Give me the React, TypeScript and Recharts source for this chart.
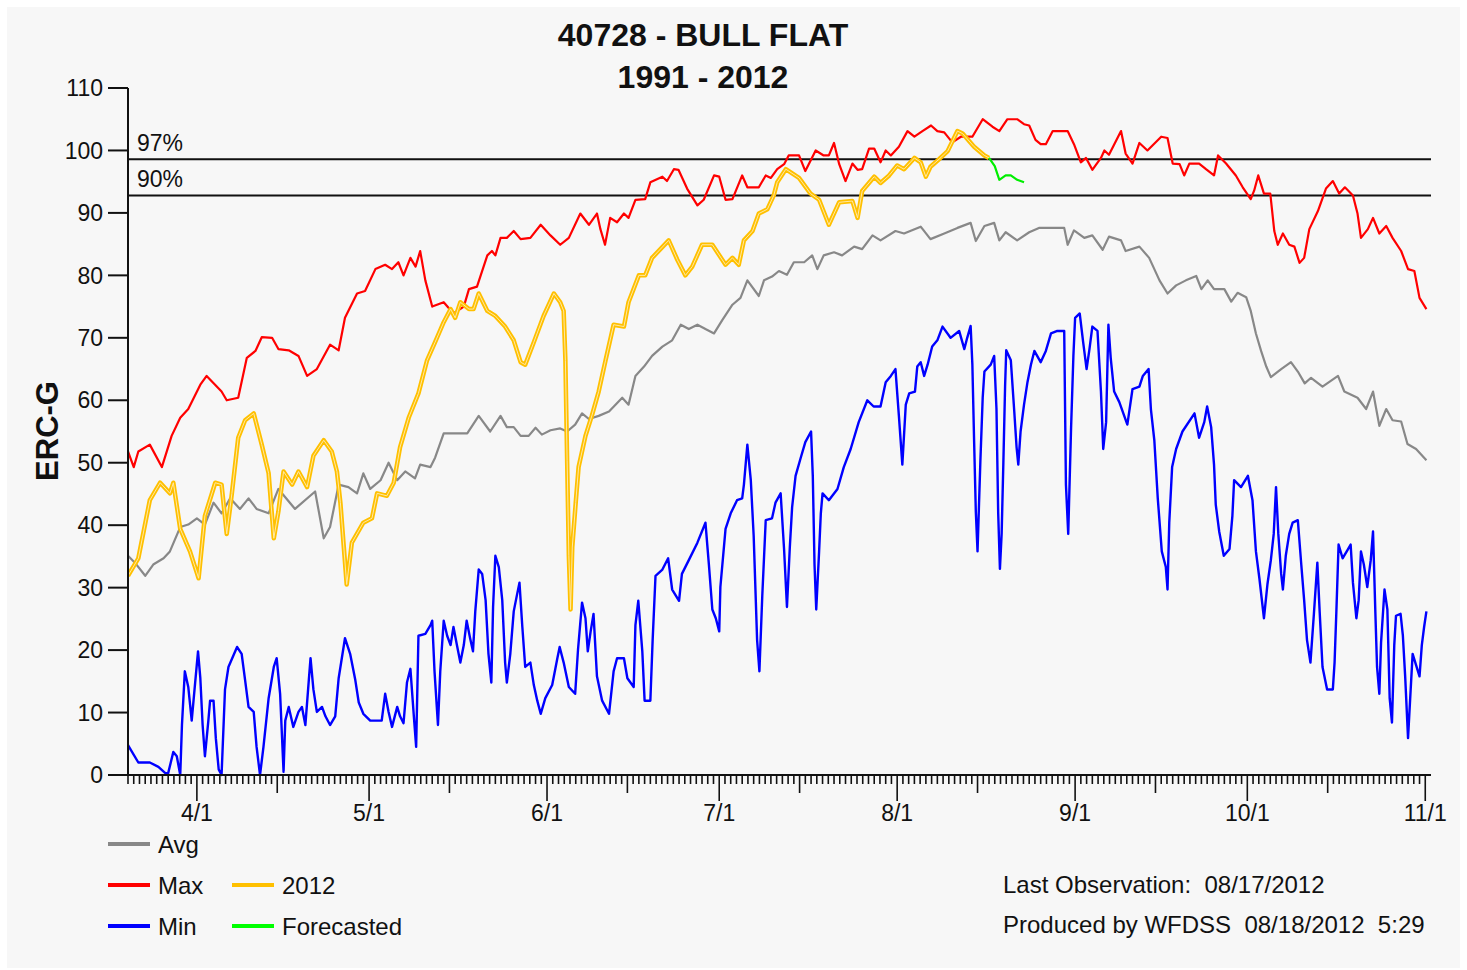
import React from "react";
import { LineChart, Line, XAxis, YAxis, ReferenceLine } from "recharts";

// day index: 0 = 4/1; the axis runs from 3/20 (-12) to 11/2 (215)
const monthTicks = [0, 30, 61, 91, 122, 153, 183, 214];
const monthLabels = ["4/1", "5/1", "6/1", "7/1", "8/1", "9/1", "10/1", "11/1"];
const midMonthTicks = [14, 44, 75, 105, 136, 167, 197];
const yTicks = [0, 10, 20, 30, 40, 50, 60, 70, 80, 90, 100, 110];
const pct97 = 98.6;
const pct90 = 92.8;

const avgSeries: [number, number][] = [
  [-12, 35.1], [-10.8, 34.0], [-9, 31.9], [-7.6, 33.7], [-5.8, 34.7], [-4.7, 35.8], [-2.9, 39.7], [-1.5, 40.1],
  [0, 41.1], [1.4, 40.1], [2.9, 43.6], [4.3, 41.9], [5.8, 44.3], [7.5, 42.6], [9, 44.3], [10.4, 42.6],
  [12.5, 41.9], [14.2, 45.8], [17.1, 42.6], [20.6, 45.4], [22.1, 37.9], [23.2, 39.7], [24.7, 46.5], [26.4, 46.1],
  [27.9, 45.1], [29, 48.3], [30.2, 45.8], [32, 47.2], [33.4, 50.0], [34.9, 47.2], [36.3, 48.6], [38, 47.5],
  [38.9, 49.7], [40.7, 49.3], [41.5, 50.8], [43, 54.7], [45, 54.7], [47.1, 54.7], [49.1, 57.5], [51.1, 55.0],
  [52.9, 57.5], [54, 55.7], [55.2, 55.7], [56.4, 54.3], [57.8, 54.3], [59, 55.6], [60.1, 54.5], [61.6, 55.2],
  [63.3, 55.5], [64.5, 55.0], [65.9, 56.1], [67.1, 57.9], [68.3, 57.0], [70, 57.5], [71.8, 58.2], [74.1, 60.4],
  [75.2, 59.3], [76.4, 63.9], [77.9, 65.4], [79.3, 67.1], [81.1, 68.6], [82.8, 69.6], [84.3, 72.1], [85.7, 71.4],
  [87.2, 72.1], [88.6, 71.4], [90.1, 70.7], [91.5, 72.8], [93.3, 75.3], [94.7, 76.4], [95.9, 79.2], [97.9, 76.7],
  [98.8, 79.2], [100.2, 79.8], [101.4, 80.7], [102.8, 80.1], [104, 82.1], [105.8, 82.1], [107.2, 83.2], [108.1, 81.0],
  [109.2, 83.2], [111, 83.7], [112.4, 83.2], [114.5, 84.6], [115.9, 84.2], [117.7, 86.4], [119.1, 85.6], [121.7, 87.1],
  [123.2, 86.7], [126.1, 87.8], [127.8, 85.8], [130.2, 86.7], [132.5, 87.6], [134.8, 88.4], [135.7, 85.5], [137.2, 87.9],
  [138.9, 88.4], [139.8, 85.6], [140.9, 86.9], [142.9, 85.6], [145, 86.9], [146.7, 87.6], [149.1, 87.6], [151.1, 87.6],
  [151.7, 84.9], [152.8, 87.2], [154.6, 86.0], [156, 86.4], [157.8, 84.1], [158.9, 86.2], [161, 85.6], [161.8, 83.9],
  [164.2, 84.6], [165.9, 82.8], [167.7, 79.2], [169.1, 77.1], [170.6, 78.4], [172.3, 79.2], [174.1, 79.9], [175, 77.8],
  [176.1, 79.2], [177.2, 77.8], [179, 77.8], [180.2, 75.8], [181.3, 77.2], [182.8, 76.5], [183.6, 74.3], [184.5, 70.7],
  [185.4, 67.9], [186.3, 65.4], [187.1, 63.7], [188.9, 65.0], [190.6, 66.1], [191.8, 64.6], [193, 62.7], [194.1, 63.6],
  [196.1, 62.2], [198.8, 63.9], [199.9, 61.4], [202.2, 60.4], [203.7, 58.6], [204.9, 61.4], [206, 55.9], [207.2, 58.6],
  [208.3, 56.8], [209.8, 56.6], [210.9, 53.0], [212.4, 52.2], [214.2, 50.4],
];

const maxSeries: [number, number][] = [
  [-12, 51.8], [-11, 49.3], [-10.2, 51.8], [-8.2, 52.9], [-6.1, 49.3], [-4.4, 54.3], [-2.9, 57.2], [-1.5, 58.6],
  [0.6, 62.5], [1.7, 63.9], [4.3, 61.4], [5.2, 60.0], [7.2, 60.4], [8.7, 66.8], [10.2, 67.9], [11.3, 70.1],
  [13.1, 70.0], [14.2, 68.2], [16, 68.0], [17.7, 67.1], [19.2, 63.9], [20.9, 65.0], [23.2, 68.9], [24.7, 68.0],
  [25.8, 73.2], [27.9, 77.1], [29.3, 77.5], [31.1, 81.0], [32.8, 81.7], [34, 81.0], [35.1, 82.1], [36, 80.0],
  [37.2, 82.8], [38.1, 81.4], [38.9, 83.9], [39.8, 79.2], [41, 75.0], [43, 75.7], [44.7, 73.9], [46.5, 75.0],
  [47.4, 77.8], [48.8, 78.2], [50.6, 83.2], [51.4, 83.9], [52, 83.2], [52.9, 86.0], [54, 86.0], [55.2, 87.1],
  [56.4, 85.8], [58.1, 86.0], [59.9, 88.1], [61.6, 86.4], [63.3, 84.9], [64.8, 86.0], [66.8, 89.9], [68.3, 88.1],
  [69.7, 89.9], [70.3, 87.4], [71.1, 84.9], [72, 89.2], [73.2, 88.5], [74.4, 89.9], [75.2, 89.2], [76.4, 92.1],
  [78.1, 92.2], [79, 94.9], [81.1, 95.8], [81.9, 95.1], [83.1, 97.0], [83.9, 96.9], [85.4, 93.9], [87.2, 91.2],
  [88.3, 92.1], [90.1, 96.0], [91, 95.8], [92.1, 92.1], [93.3, 92.2], [95, 96.0], [95.9, 94.1], [97.9, 94.1],
  [99.1, 96.0], [100, 95.6], [101.1, 97.0], [102.3, 97.8], [103.1, 99.2], [104.9, 99.2], [106, 96.7], [107.8, 100.0],
  [109.2, 99.2], [110.1, 99.2], [111, 101.2], [111.9, 97.8], [113, 95.1], [114.2, 97.9], [115.1, 96.9], [115.9, 97.0],
  [117.1, 100.3], [118, 100.3], [119.1, 98.1], [120, 100.0], [120.9, 99.2], [122.3, 100.6], [123.8, 103.1], [125, 102.2],
  [126.4, 103.1], [127.9, 104.0], [129, 103.1], [130.2, 102.9], [131.6, 101.3], [133.1, 102.2], [135.1, 102.2], [136.9, 105.0],
  [138.6, 103.8], [139.8, 103.1], [141.2, 105.0], [142.9, 105.0], [144.1, 104.2], [145, 104.0], [146.1, 101.7], [147, 101.0],
  [147.9, 101.0], [149.1, 103.1], [151.7, 103.1], [152.8, 101.0], [154, 98.1], [154.9, 98.8], [156, 96.9], [157.5, 98.8],
  [158.1, 100.0], [158.9, 99.3], [161, 103.1], [161.8, 99.5], [163, 97.9], [164.2, 101.2], [165.6, 100.0], [168, 102.2],
  [169.1, 102.0], [170, 97.9], [171.2, 97.8], [172, 96.0], [172.9, 97.9], [174.6, 97.9], [175.8, 97.0], [177.2, 96.0],
  [177.9, 99.2], [179.3, 97.9], [181, 96.0], [182.2, 94.1], [183.6, 92.2], [184.2, 93.6], [184.9, 96.0], [185.9, 93.1],
  [187, 93.1], [187.7, 87.1], [188.3, 84.9], [189.2, 86.7], [190.3, 84.9], [191.2, 84.6], [192.1, 82.0], [192.9, 82.8],
  [193.8, 87.4], [195.3, 90.3], [196.7, 93.9], [197.9, 95.1], [199, 93.1], [200, 94.1], [201.4, 92.8], [202.2, 89.9],
  [202.8, 86.0], [204, 87.4], [204.9, 89.2], [206, 86.7], [207.2, 87.9], [208.3, 86.0], [209.8, 83.9], [211, 81.0],
  [212.1, 80.7], [213, 76.4], [214.2, 74.6],
];

const minSeries: [number, number][] = [
  [-12, 4.8], [-10.2, 2.0], [-8.2, 2.0], [-6.7, 1.3], [-5.5, 0.3], [-5.0, 0.3], [-4.1, 3.7], [-3.5, 3.0],
  [-2.9, 0], [-2.6, 8.0], [-2.1, 16.6], [-1.5, 14.1], [-0.9, 8.7], [-0.3, 14.8], [0.2, 19.8], [0.6, 15.5],
  [1.0, 8.0], [1.4, 3.0], [2.0, 8.7], [2.3, 11.9], [2.9, 11.9], [3.3, 5.9], [3.8, 0.9], [4.3, 0],
  [4.9, 13.7], [5.5, 17.3], [7.0, 20.5], [7.8, 19.4], [8.4, 15.2], [9.0, 10.9], [9.9, 10.1], [10.4, 4.5],
  [11.0, 0], [11.6, 4.5], [12.5, 12.3], [13.4, 17.3], [13.9, 18.7], [14.5, 13.0], [15.1, 0.5], [15.4, 8.7],
  [16.0, 10.9], [16.8, 7.7], [17.7, 10.1], [18.3, 10.9], [18.9, 8.0], [19.5, 15.2], [19.8, 18.7], [20.3, 13.7],
  [20.9, 10.1], [21.8, 10.9], [22.4, 9.4], [23.2, 8.0], [24.1, 9.4], [24.7, 15.5], [25.8, 21.9], [26.7, 19.4],
  [27.6, 15.2], [28.2, 11.6], [29.0, 9.8], [30.2, 8.7], [32.2, 8.7], [32.8, 13.0], [33.4, 10.1], [34.0, 7.7],
  [34.9, 10.9], [35.4, 9.4], [36.0, 8.3], [36.6, 14.8], [37.2, 17.0], [37.8, 9.4], [38.2, 4.5], [38.6, 22.3],
  [39.8, 22.6], [40.7, 24.0], [41.0, 24.7], [41.4, 16.6], [42.0, 8.0], [42.4, 16.6], [43.0, 24.7], [43.6, 22.3],
  [44.2, 20.8], [44.7, 23.7], [45.3, 20.8], [45.9, 18.0], [46.5, 20.8], [47.0, 24.7], [47.6, 21.9], [48.1, 19.8],
  [48.5, 26.2], [49.1, 32.9], [49.7, 32.2], [50.3, 28.0], [50.8, 19.4], [51.3, 14.8], [51.6, 26.9], [52.0, 35.1],
  [52.6, 33.3], [53.2, 28.0], [53.7, 18.0], [54.0, 14.8], [54.6, 19.4], [55.2, 26.2], [55.8, 29.0], [56.2, 30.8],
  [56.7, 23.7], [57.2, 17.3], [58.1, 18.0], [58.7, 14.4], [59.3, 11.9], [59.9, 9.8], [60.7, 12.3], [61.9, 14.4],
  [62.8, 18.7], [63.2, 20.5], [63.9, 18.0], [64.8, 14.1], [65.9, 13.0], [66.4, 20.1], [67.1, 27.6], [67.7, 25.1],
  [68.1, 19.8], [68.6, 23.0], [69.1, 25.8], [69.7, 15.8], [70.6, 11.9], [71.8, 9.8], [72.6, 16.6], [73.2, 18.7],
  [74.4, 18.7], [75.0, 15.5], [76.1, 14.1], [76.4, 24.0], [76.9, 27.9], [77.6, 19.8], [78.0, 11.9], [79.0, 11.9],
  [79.4, 21.6], [79.9, 31.9], [81.1, 32.9], [82.1, 34.7], [82.8, 29.7], [84.0, 27.9], [84.5, 32.2], [85.7, 34.4],
  [87.2, 37.2], [88.6, 40.4], [89.2, 33.7], [89.8, 26.5], [90.4, 25.1], [91.0, 23.0], [91.2, 30.1], [92.1, 39.4],
  [93.0, 41.9], [94.1, 44.0], [95.0, 44.3], [95.3, 46.5], [95.9, 52.9], [96.5, 47.2], [97.0, 38.3], [97.6, 21.6],
  [98.0, 16.6], [98.5, 28.7], [99.1, 40.8], [100.2, 41.1], [100.8, 43.6], [101.7, 45.1], [102.3, 36.1], [102.8, 26.9],
  [103.3, 36.5], [103.7, 42.9], [104.3, 47.9], [105.2, 50.8], [106.0, 53.3], [107.0, 55.0], [107.3, 47.9], [107.6, 33.7],
  [107.9, 26.5], [108.4, 35.8], [108.7, 41.9], [109.0, 45.1], [110.1, 44.0], [111.6, 45.8], [112.7, 49.3], [113.9, 52.2],
  [115.3, 56.5], [116.8, 60.0], [117.9, 59.0], [119.1, 59.0], [120.0, 62.9], [120.9, 63.9], [121.7, 65.0], [122.3, 57.5],
  [122.9, 49.7], [123.5, 59.3], [124.1, 61.1], [125.1, 61.4], [125.5, 65.4], [126.1, 66.1], [126.7, 63.9], [127.3, 65.7],
  [128.1, 68.6], [129.0, 69.6], [129.9, 71.8], [131.3, 70.0], [132.8, 71.1], [133.7, 68.2], [134.2, 70.0], [134.8, 71.9],
  [135.1, 65.7], [135.4, 53.6], [135.7, 42.2], [136.0, 35.8], [136.5, 50.4], [136.9, 60.4], [137.2, 64.6], [138.3, 65.7],
  [138.9, 67.1], [139.3, 58.6], [139.6, 41.9], [139.9, 33.0], [140.2, 38.6], [140.5, 50.0], [140.8, 62.2], [141.0, 68.0],
  [141.8, 66.4], [142.4, 58.2], [142.8, 52.5], [143.1, 49.7], [143.5, 55.0], [144.1, 59.3], [144.7, 62.9], [145.3, 65.7],
  [145.9, 67.9], [147.0, 66.1], [147.9, 67.9], [148.8, 70.7], [149.9, 71.1], [151.1, 71.1], [151.4, 46.5], [151.8, 38.6],
  [152.3, 55.7], [152.7, 67.1], [153.0, 73.2], [153.8, 73.9], [154.4, 69.3], [155.0, 65.0], [155.5, 68.2], [156.0, 71.8],
  [156.9, 71.1], [157.5, 61.4], [157.9, 52.2], [158.4, 56.5], [158.8, 72.1], [159.2, 66.8], [159.8, 61.4], [160.7, 59.7],
  [162.1, 56.1], [163.0, 61.8], [164.2, 62.2], [164.8, 63.9], [165.8, 65.0], [166.2, 58.6], [166.8, 53.6], [167.4, 44.3],
  [168.1, 35.8], [168.8, 33.3], [169.1, 29.7], [169.4, 40.4], [169.9, 49.3], [170.6, 52.2], [171.7, 55.0], [173.8, 57.9],
  [174.6, 54.0], [175.5, 56.5], [176.0, 59.0], [176.7, 55.7], [177.2, 49.7], [177.5, 43.3], [178.1, 39.0], [178.9, 35.1],
  [179.9, 36.2], [180.4, 41.5], [180.7, 47.2], [181.9, 46.1], [183.1, 47.9], [183.9, 44.0], [184.5, 35.8], [185.1, 31.5],
  [185.9, 25.1], [186.5, 30.5], [187.1, 34.4], [187.6, 38.6], [188.0, 46.1], [188.4, 38.6], [188.9, 32.2], [189.2, 29.7],
  [189.7, 35.1], [190.3, 38.6], [190.9, 40.4], [191.8, 40.8], [192.4, 33.7], [192.9, 28.0], [193.4, 21.6], [194.0, 18.0],
  [194.6, 25.8], [195.2, 34.0], [195.6, 26.2], [196.1, 17.3], [196.9, 13.7], [197.9, 13.7], [198.2, 18.0], [198.5, 25.8],
  [198.9, 36.9], [199.6, 34.7], [200.5, 36.1], [201.0, 36.9], [201.4, 30.8], [202.0, 25.1], [202.4, 28.0], [202.8, 35.8],
  [203.3, 33.7], [203.9, 30.1], [204.5, 34.4], [204.9, 39.0], [205.3, 26.2], [205.6, 17.3], [206.0, 13.0], [206.3, 21.2],
  [206.9, 29.7], [207.4, 26.5], [207.8, 12.3], [208.2, 8.4], [208.6, 20.8], [208.9, 25.5], [209.7, 25.8], [210.1, 22.3],
  [210.5, 15.8], [211.0, 5.9], [211.4, 12.7], [211.8, 19.4], [212.4, 17.6], [213.0, 15.8], [213.4, 20.8], [213.8, 23.7],
  [214.2, 26.2],
];

const year2012Series: [number, number][] = [
  [-12, 31.9], [-10.2, 34.7], [-8.2, 44.0], [-6.4, 46.8], [-4.7, 45.1], [-4.1, 46.8], [-2.9, 39.4], [-1.2, 35.8],
  [0.3, 31.5], [1.4, 41.5], [3.2, 46.8], [4.3, 46.5], [5.2, 38.6], [6.1, 45.1], [7.2, 54.0], [8.4, 56.8],
  [9.9, 57.9], [11.3, 52.9], [12.5, 48.3], [13.4, 37.9], [14.2, 42.2], [15.1, 48.6], [16.6, 46.5], [17.7, 48.6],
  [19.2, 46.1], [20.3, 51.1], [22.1, 53.6], [23.5, 51.8], [24.4, 48.6], [25.0, 43.6], [26.1, 30.5], [27, 37.2],
  [29, 40.4], [30.5, 41.1], [31.4, 45.1], [33.1, 44.7], [34.3, 46.8], [35.4, 52.5], [36.9, 57.2], [38.6, 61.1],
  [40.1, 66.4], [41.5, 69.3], [43, 72.5], [44.2, 74.6], [45, 73.2], [45.9, 75.7], [47.4, 74.6], [48.2, 74.6],
  [49.1, 77.1], [50.6, 74.3], [52, 73.5], [53.7, 71.8], [55.2, 69.6], [56.4, 66.1], [57.2, 65.7], [58.7, 69.3],
  [60.4, 73.5], [62.2, 77.1], [63.3, 75.7], [63.9, 74.3], [64.2, 66.4], [64.5, 50.4], [64.8, 35.1], [65.1, 26.5],
  [65.4, 36.5], [66, 43.6], [66.5, 49.3], [67.7, 54.3], [68.8, 57.5], [70, 61.4], [71.2, 66.4], [72.6, 72.1],
  [74.4, 71.8], [75.2, 75.7], [77, 80.0], [78.1, 80.0], [79.3, 82.8], [82.2, 85.6], [83.7, 82.5], [85.1, 80.0],
  [86.3, 81.4], [88, 84.9], [89.8, 84.9], [92.1, 81.7], [93.3, 82.8], [94.4, 81.7], [95.3, 85.6], [96.8, 87.1],
  [97.9, 89.9], [99.4, 90.6], [100.5, 92.8], [101.1, 94.9], [102.6, 97.0], [104.9, 95.6], [106.9, 93.1], [108.4, 92.1],
  [110.1, 88.1], [111.9, 91.7], [114.2, 91.9], [115.1, 89.2], [115.9, 93.5], [118, 95.8], [119.1, 94.8], [120.6, 96.0],
  [122, 97.6], [123.2, 97.0], [125, 98.8], [126.1, 98.1], [127, 95.8], [127.8, 97.4], [129.3, 98.6], [130.8, 99.9],
  [132.5, 103.1], [133.4, 102.7], [135.4, 100.6], [137.2, 99.2], [138, 98.8],
];

const forecastSeries: [number, number][] = [
  [138, 98.8], [139, 97.5], [139.8, 95.3], [140.9, 96.0], [141.8, 96.0], [142.9, 95.3], [144.1, 94.9],
];

const FONT = "'Liberation Sans', Arial, sans-serif";
const INK = "#111";

const toPoints = (s: [number, number][]) => s.map(([d, v]) => ({ d, v }));

const dayTicks: number[] = [];
for (let d = -12; d <= 214; d++) dayTicks.push(d);

const legendItems = [
  { label: "Avg", color: "#888888", x: 108, y: 844 },
  { label: "Max", color: "#ff0000", x: 108, y: 885 },
  { label: "2012", color: "#ffc000", x: 232, y: 885 },
  { label: "Min", color: "#0000ff", x: 108, y: 926 },
  { label: "Forecasted", color: "#00ff00", x: 232, y: 926 },
];

function DayTick({ x, y, payload }: any) {
  const d = payload.value;
  const mi = monthTicks.indexOf(d);
  const len = mi >= 0 ? 26 : midMonthTicks.includes(d) ? 18 : 9;
  return (
    <g>
      <line x1={x} x2={x} y1={y} y2={y + len} stroke={INK} strokeWidth={1.6} />
      {mi >= 0 && (
        <text x={x} y={y + 46} textAnchor="middle" fontSize={23} fontFamily={FONT} fill={INK}>
          {monthLabels[mi]}
        </text>
      )}
    </g>
  );
}

const pctLabel = (text: string) => (p: any) => (
  <text x={p.viewBox.x + 9} y={p.viewBox.y - 8} fontSize={23} fontFamily={FONT} fill={INK}>
    {text}
  </text>
);

export default function App() {
  return (
    <div style={{ position: "absolute", left: 0, top: 0, width: 1467, height: 970, background: "#fff" }}>
      <div style={{ position: "absolute", left: 7, top: 7, width: 1453, height: 961, background: "#f7f7f7" }} />
      <div style={{ position: "absolute", left: 0, top: 0 }}>
        <LineChart width={1467} height={970} margin={{ top: 88, right: 36, bottom: 145, left: 68 }}>
          <XAxis
            type="number"
            dataKey="d"
            domain={[-12, 215]}
            allowDataOverflow
            ticks={dayTicks}
            interval={0}
            tick={<DayTick />}
            tickLine={false}
            tickSize={0}
            tickMargin={0}
            height={50}
            axisLine={{ stroke: INK, strokeWidth: 2 }}
          />
          <YAxis
            type="number"
            domain={[0, 110]}
            ticks={yTicks}
            interval={0}
            width={60}
            tickSize={20}
            tickMargin={5}
            tickLine={{ stroke: INK, strokeWidth: 2 }}
            axisLine={{ stroke: INK, strokeWidth: 2 }}
            tick={{ fontSize: 23, fontFamily: FONT, fill: INK }}
          />
          <ReferenceLine y={pct97} stroke={INK} strokeWidth={2} label={pctLabel("97%")} />
          <ReferenceLine y={pct90} stroke={INK} strokeWidth={2} label={pctLabel("90%")} />
          <Line data={toPoints(avgSeries)} dataKey="v" name="Avg" type="linear" stroke="#888888" strokeWidth={2.2} strokeLinejoin="round" dot={false} isAnimationActive={false} />
          <Line data={toPoints(maxSeries)} dataKey="v" name="Max" type="linear" stroke="#ff0000" strokeWidth={2.2} strokeLinejoin="round" dot={false} isAnimationActive={false} />
          <Line data={toPoints(minSeries)} dataKey="v" name="Min" type="linear" stroke="#0000ff" strokeWidth={2.4} strokeLinejoin="round" dot={false} isAnimationActive={false} />
          <Line data={toPoints(year2012Series)} dataKey="v" name="2012" type="linear" stroke="#ffc000" strokeWidth={4.5} strokeLinejoin="round" dot={false} isAnimationActive={false} />
          <Line data={toPoints(year2012Series)} dataKey="v" name="2012 inner" type="linear" stroke="#ffe9a6" strokeWidth={1} strokeLinejoin="round" dot={false} isAnimationActive={false} />
          <Line data={toPoints(forecastSeries)} dataKey="v" name="Forecasted" type="linear" stroke="#00ee00" strokeWidth={2.2} strokeLinejoin="round" dot={false} isAnimationActive={false} />
        </LineChart>
      </div>
      <svg width={1467} height={970} style={{ position: "absolute", left: 0, top: 0, pointerEvents: "none" }} fontFamily={FONT}>
        <text x={703} y={46} textAnchor="middle" fontSize={32} fontWeight="bold" fill={INK}>40728 - BULL FLAT</text>
        <text x={703} y={88} textAnchor="middle" fontSize={32} fontWeight="bold" fill={INK}>1991 - 2012</text>
        <text transform="translate(58,431) rotate(-90)" textAnchor="middle" fontSize={31} fontWeight="bold" fill={INK}>ERC-G</text>
        {legendItems.map((it) => (
          <g key={it.label}>
            <line x1={it.x} x2={it.x + 42} y1={it.y} y2={it.y} stroke={it.color} strokeWidth={4} />
            <text x={it.x + 50} y={it.y + 9} fontSize={24} fill={INK}>{it.label}</text>
          </g>
        ))}
        <text x={1003} y={893} fontSize={24} fill={INK} style={{ whiteSpace: "pre" }}>{"Last Observation:  08/17/2012"}</text>
        <text x={1003} y={933} fontSize={24} fill={INK} style={{ whiteSpace: "pre" }}>{"Produced by WFDSS  08/18/2012  5:29"}</text>
      </svg>
    </div>
  );
}
